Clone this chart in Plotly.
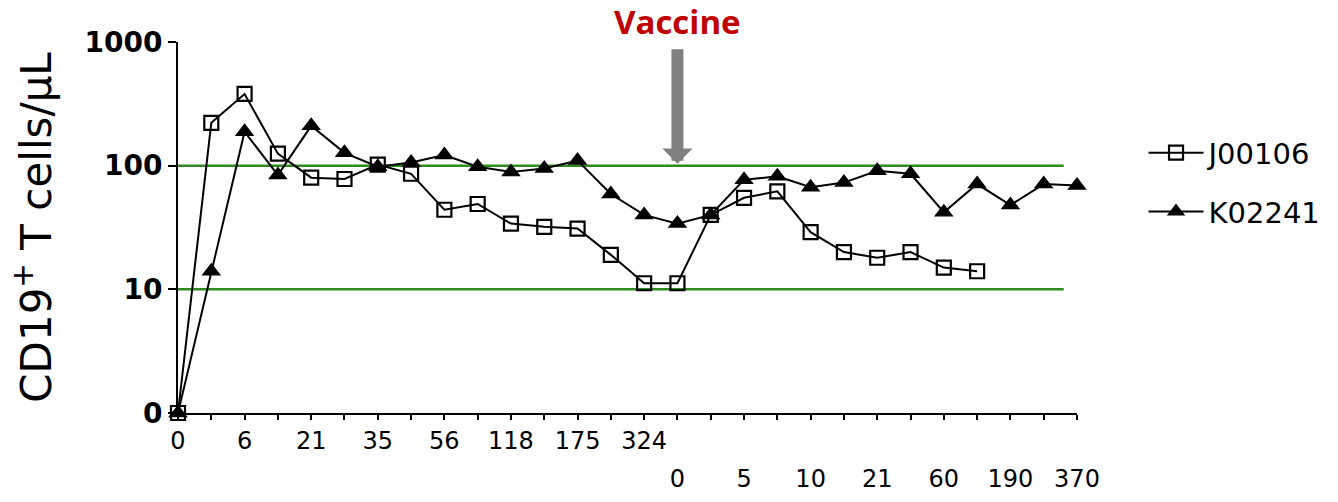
import plotly.graph_objects as go

# ---- data ----
timepoint_labels = ["0", "", "6", "", "21", "", "35", "", "56", "", "118", "", "175", "", "324",
                    "0", "", "5", "", "10", "", "21", "", "60", "", "190", "", "370"]
vaccine_index = 15  # first timepoint after vaccination

J00106 = [0, 222, 380, 125, 80, 78, 102, 86, 44, 49, 34, 32, 31, 19, 11.2,
          11.2, 40, 55, 62, 29, 20, 18, 20, 15, 14]
K02241 = [0, 14, 188, 84, 210, 127, 98, 106, 122, 98, 89, 95, 110, 59, 40,
          34, 40, 77, 82, 67, 73, 91, 86, 42, 71, 48, 71, 69]

ytick_values = [0, 10, 100, 1000]
reference_levels = [10, 100]

FONT = "DejaVu Sans"


def to_plot(v):
    # zero is shown at the bottom of the log axis (position of 1)
    return 1 if v == 0 else v


xs_all = list(range(len(timepoint_labels)))
pre_text = [t if i < vaccine_index else "" for i, t in enumerate(timepoint_labels)]
post_vals = [i for i, t in enumerate(timepoint_labels) if i >= vaccine_index and t]
post_text = [timepoint_labels[i] for i in post_vals]
x_range = [0, len(xs_all) - 1]

fig = go.Figure()

fig.add_trace(go.Scatter(
    x=xs_all[:len(J00106)], y=[to_plot(v) for v in J00106],
    mode="lines+markers", name="J00106", legendgroup="a",
    line=dict(color="black", width=2),
    marker=dict(symbol="square-open", size=14, color="black", line=dict(width=2.2)),
    cliponaxis=False,
))
fig.add_trace(go.Scatter(
    x=xs_all[:len(K02241)], y=[to_plot(v) for v in K02241],
    mode="lines+markers", name="K02241", legendgroup="b",
    line=dict(color="black", width=2),
    marker=dict(symbol="triangle-up", size=17, color="black"),
    cliponaxis=False,
))
# carrier for the second (post-vaccine) row of day labels
fig.add_trace(go.Scatter(
    x=post_vals, y=[to_plot(K02241[i]) for i in post_vals], xaxis="x2",
    mode="markers", marker=dict(opacity=0), showlegend=False, hoverinfo="skip",
))

# reference lines
for lvl in reference_levels:
    fig.add_shape(type="line", xref="x", yref="y", x0=0, x1=len(xs_all) - 1.4,
                  y0=lvl, y1=lvl, line=dict(color="#2f8a1f", width=2.5), layer="below")

# vaccine arrow + label
fig.add_annotation(x=vaccine_index, y=0.672, xref="x", yref="paper",
                   ax=0, ay=-116, axref="pixel", ayref="pixel",
                   showarrow=True, arrowhead=1, arrowsize=0.42, arrowwidth=12,
                   arrowcolor="#808080", text="")
fig.add_annotation(x=vaccine_index, y=1.056, xref="x", yref="paper",
                   xanchor="center", yanchor="middle",
                   text="<b>Vaccine</b>", showarrow=False,
                   font=dict(family="Open Sans", size=33, color="#c00000"))

fig.update_layout(
    width=1338, height=502,
    margin=dict(l=178, r=261, t=42, b=89),
    plot_bgcolor="white", paper_bgcolor="white",
    showlegend=True,
    legend=dict(x=1.074, y=0.77, xanchor="left", yanchor="top", itemwidth=55,
                font=dict(family=FONT, size=29, color="black"),
                traceorder="grouped", tracegroupgap=18, bgcolor="rgba(0,0,0,0)"),
    xaxis=dict(
        range=x_range, tickmode="array", tickvals=xs_all, ticktext=pre_text,
        showgrid=False, zeroline=False, showline=True, linecolor="black", linewidth=2,
        ticks="outside", ticklen=5, tickwidth=2, tickcolor="black", tickangle=0,
        tickfont=dict(family=FONT, size=24, color="black"), automargin=False,
    ),
    xaxis2=dict(
        range=x_range, overlaying="x", anchor="y", side="bottom",
        tickmode="array", tickvals=post_vals, ticktext=post_text,
        showgrid=False, zeroline=False, showline=False,
        ticks="outside", ticklen=5, tickwidth=2, tickcolor="rgba(0,0,0,0)", tickangle=0,
        ticklabelstandoff=39,
        tickfont=dict(family=FONT, size=24, color="black"), automargin=False,
    ),
    yaxis=dict(
        type="log", range=[0, 3], tickmode="array",
        tickvals=[to_plot(v) for v in ytick_values], ticktext=[str(v) for v in ytick_values],
        showgrid=False, zeroline=False, showline=True, linecolor="black", linewidth=2,
        ticks="outside", ticklen=8, tickwidth=2, tickcolor="black", automargin=False,
        tickfont=dict(family=FONT, size=28, color="black", weight="bold"),
        title=dict(text="CD19<sup>+</sup> T cells/µL", standoff=20,
                   font=dict(family=FONT, size=42, color="black")),
    ),
)

# remove the page's default 8px body margin so the figure sits at the window origin
fig.write_html("out.html", config={"displayModeBar": False},
               post_script="document.body.style.margin='0px';")
